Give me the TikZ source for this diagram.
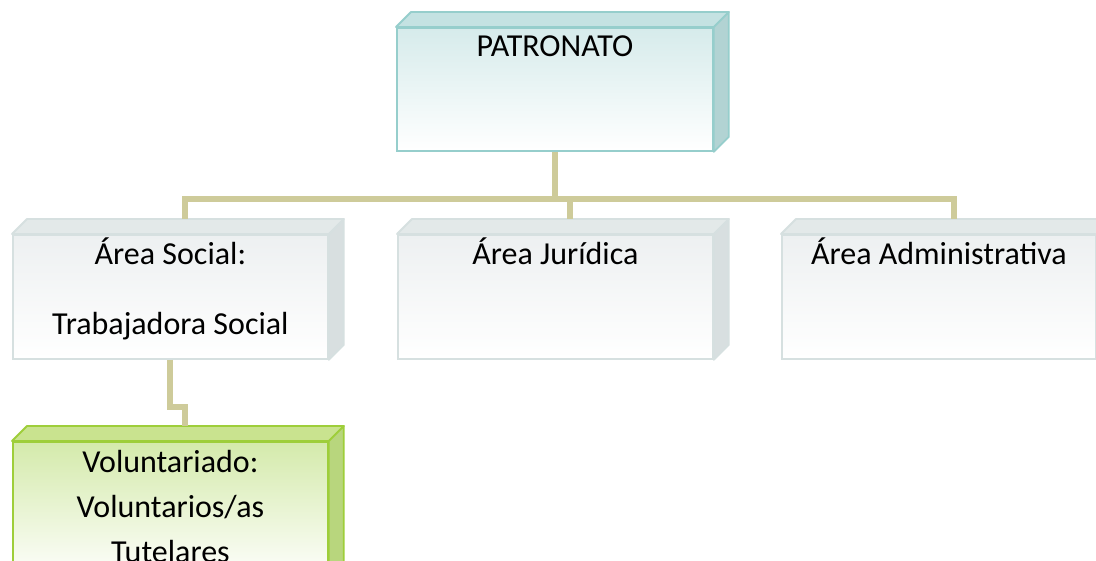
\documentclass[tikz,border=0pt]{standalone}
\usepackage{fontspec}
\setmainfont{Carlito}
\definecolor{conn}{RGB}{206,203,154}
\definecolor{tealB}{RGB}{150,206,204}
\definecolor{tealT}{RGB}{196,226,226}
\definecolor{tealS}{RGB}{178,211,211}
\definecolor{tealF}{RGB}{214,235,235}
\definecolor{greyB}{RGB}{214,224,224}
\definecolor{greyT}{RGB}{227,233,233}
\definecolor{greyS}{RGB}{216,223,224}
\definecolor{greyF}{RGB}{237,240,241}
\definecolor{grnB}{RGB}{158,206,58}
\definecolor{grnT}{RGB}{201,227,143}
\definecolor{grnS}{RGB}{184,214,125}
\definecolor{grnF}{RGB}{212,234,171}
\newcommand\boxfaces[4]{%
  \filldraw[draw=#2,fill=#3,line width=1.8pt,line join=round]
    (#1.north west) -- ++(15,-15) -- ([shift={(15,-15)}]#1.north east) -- (#1.north east) -- cycle;
  \filldraw[draw=#2,fill=#4,line width=1.8pt,line join=round]
    (#1.north east) -- ++(15,-15) -- ([shift={(15,-15)}]#1.south east) -- (#1.south east) -- cycle;}
\tikzset{
  x=1pt, y=-1pt,
  front/.style={rectangle, anchor=north west, inner sep=0pt, line width=1.8pt},
  tealbox/.style={front, draw=tealB, top color=tealF, bottom color=white},
  greybox/.style={front, draw=greyB, top color=greyF, bottom color=white},
  grnbox/.style={front, draw=grnB, top color=grnF, bottom color=white},
  txt/.style={anchor=base, inner sep=0pt, font=\fontsize{32}{38}\selectfont},
  connector/.style={draw=conn, line width=6pt}
}
\begin{document}
\begin{tikzpicture}
\useasboundingbox (0,0) rectangle (1096,561);
\clip (0,0) rectangle (1096,561);
\fill[white] (0,0) rectangle (1096,561);
% front faces
\node[tealbox, minimum width=316pt, minimum height=123pt] (pat) at (396,27) {};
\node[greybox, minimum width=315pt, minimum height=124pt] (soc) at (12,234) {};
\node[greybox, minimum width=315pt, minimum height=124pt] (jur) at (397,234) {};
\node[greybox, minimum width=314pt, minimum height=124pt] (adm) at (781,234) {};
\node[grnbox, minimum width=315pt, minimum height=140pt] (vol) at (12,441) {};
% 3D faces
\boxfaces{pat}{tealB}{tealT}{tealS}
\boxfaces{soc}{greyB}{greyT}{greyS}
\boxfaces{jur}{greyB}{greyT}{greyS}
\boxfaces{adm}{greyB}{greyT}{greyS}
\boxfaces{vol}{grnB}{grnT}{grnS}
% connector anchors (top-back centres)
\coordinate (socTop) at ([shift={(15,-15)}]soc.north);
\coordinate (jurTop) at ([shift={(15,-15)}]jur.north);
\coordinate (admTop) at ([shift={(15,-15)}]adm.north);
\coordinate (volTop) at ([shift={(15,-15)}]vol.north);
\coordinate (bus) at ([yshift=-47pt]pat.south);
% connectors
\draw[connector] (pat.south) -- (bus);
\draw[connector] (socTop) |- (bus) -| (admTop);
\draw[connector] (jurTop) -- (jurTop |- bus);
\coordinate (stepA) at ([yshift=-47pt]soc.south);
\draw[connector] (soc.south) -- (stepA) -| (volTop);
% texts
\node[txt] (tpat) at ([yshift=-30pt]pat.north) {PATRONATO};
\node[txt] (tsoc1) at ([yshift=-31pt]soc.north) {Área Social:};
\node[txt] (tsoc2) at ([yshift=-101pt]soc.north) {Trabajadora Social};
\node[txt] (tjur) at ([yshift=-31pt]jur.north) {Área Jurídica};
\node[txt] (tadm) at ([yshift=-31pt]adm.north) {Área Administrativa};
\node[txt] (tvol1) at ([yshift=-31pt]vol.north) {Voluntariado:};
\node[txt] (tvol2) at ([yshift=-76pt]vol.north) {Voluntarios/as};
\node[txt] (tvol3) at ([yshift=-121pt]vol.north) {Tutelares};
\end{tikzpicture}
\end{document}
